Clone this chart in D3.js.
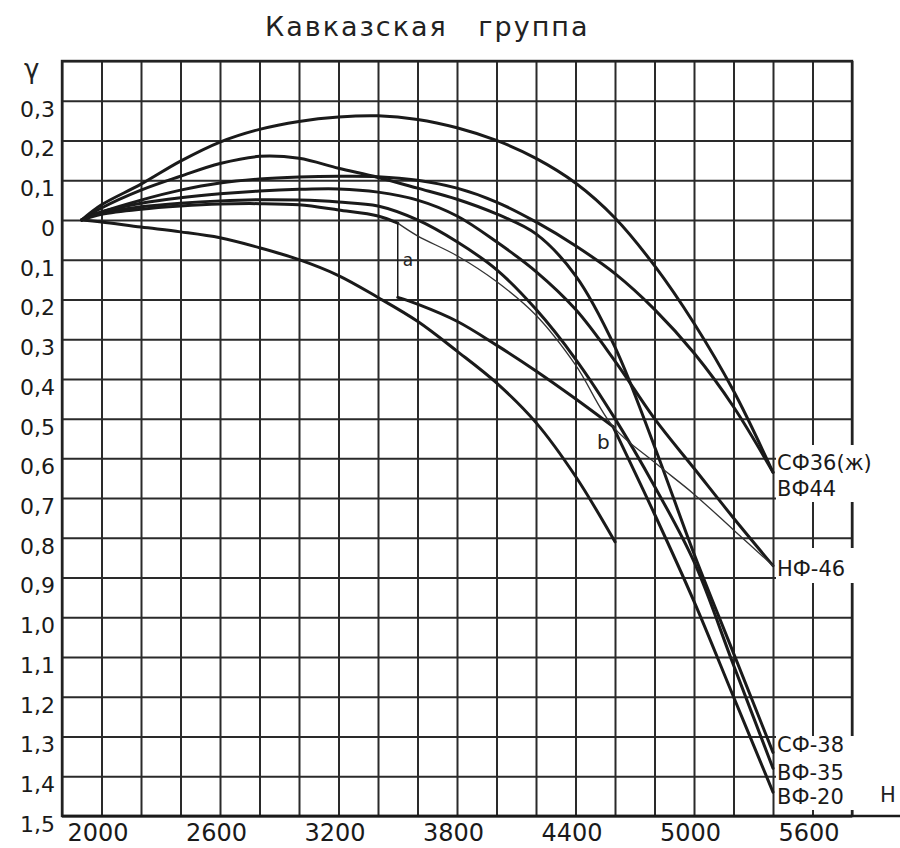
<!DOCTYPE html>
<html><head><meta charset="utf-8">
<script src="https://cdn.jsdelivr.net/npm/d3@7/dist/d3.min.js"></script>
<style>
body{margin:0;background:#fff}
svg{display:block;font-family:"DejaVu Sans",sans-serif}
</style></head><body>
<svg id="chart" width="900" height="848"></svg>
<script>
// Heights H (m) at which the curves are sampled
const hFull = [1900,2000,2200,2400,2600,2800,3000,3200,3400,3600,3800,4000,4200,4400,4600,4800,5000,5200,5400];
// γ along each full curve
const sf36 = [0,0.038,0.09,0.148,0.196,0.228,0.248,0.259,0.262,0.253,0.232,0.2,0.155,0.093,0.005,-0.115,-0.26,-0.43,-0.635];
const vf44 = [0,0.02,0.05,0.075,0.093,0.103,0.108,0.11,0.109,0.1,0.08,0.045,-0.005,-0.065,-0.135,-0.225,-0.335,-0.47,-0.635];
const sf38 = [0,0.03,0.075,0.11,0.142,0.16,0.155,0.13,0.107,0.08,0.052,0.015,-0.035,-0.14,-0.32,-0.57,-0.84,-1.09,-1.34];
const nf46 = [0,0.02,0.042,0.056,0.066,0.073,0.077,0.078,0.07,0.05,0.01,-0.055,-0.13,-0.225,-0.355,-0.5,-0.625,-0.75,-0.87];
const vf35 = [0,0.018,0.033,0.042,0.048,0.051,0.05,0.045,0.035,0.0,-0.055,-0.125,-0.225,-0.35,-0.5,-0.67,-0.86,-1.12,-1.38];
// ВФ-20: upper branch up to the shift "a", then the shifted branch a→b and b→end
const hVf20Upper = [1900,2000,2200,2400,2600,2800,3000,3200,3400,3500];
const vf20Upper = [0,0.014,0.027,0.035,0.04,0.041,0.038,0.025,0.01,-0.008];
const hVf20Ab = [3500,3600,3800,4000,4200,4400,4590];
const vf20Ab = [-0.195,-0.212,-0.255,-0.315,-0.38,-0.45,-0.52];
const hVf20End = [4590,4800,5000,5200,5400];
const vf20End = [-0.52,-0.74,-0.96,-1.2,-1.44];
// thin line: unshifted course from "a" to "b", then on to НФ-46
const hThin = [3500,3600,3800,4000,4200,4400,4590,4800,5000,5200,5400];
const thin = [-0.008,-0.04,-0.09,-0.155,-0.24,-0.365,-0.52,-0.61,-0.69,-0.78,-0.87];
// short lower curve
const hShort = [1900,2000,2200,2400,2600,2800,3000,3200,3400,3600,3800,4000,4200,4400,4600];
const shortCurve = [0,-0.005,-0.018,-0.03,-0.045,-0.07,-0.1,-0.14,-0.195,-0.255,-0.33,-0.41,-0.51,-0.645,-0.81];
// marker "a": vertical shift at H = 3500, marker "b"
const shiftA = {h:3500, top:-0.008, bottom:-0.195};
const pointB = {h:4590, g:-0.52};

const xTicks = [2000,2600,3200,3800,4400,5000,5600];
const yTicks = [0.3,0.2,0.1,0,-0.1,-0.2,-0.3,-0.4,-0.5,-0.6,-0.7,-0.8,-0.9,-1.0,-1.1,-1.2,-1.3,-1.4,-1.5];
const yTickLabels = ["0,3","0,2","0,1","0","0,1","0,2","0,3","0,4","0,5","0,6","0,7","0,8","0,9","1,0","1,1","1,2","1,3","1,4","1,5"];

const endLabels = [
  {text:"СФ36(ж)", g:-0.635, dy:-2},
  {text:"ВФ44", g:-0.635, dy:24},
  {text:"НФ-46", g:-0.87, dy:10},
  {text:"СФ-38", g:-1.34, dy:0},
  {text:"ВФ-35", g:-1.38, dy:12},
  {text:"ВФ-20", g:-1.44, dy:12}
];

const svg = d3.select("#chart");
const L = 62, R = 852, T = 61, B = 816;
const x = d3.scaleLinear().domain([1800,5800]).range([L,R]);
const y = d3.scaleLinear().domain([0.4,-1.5]).range([T,B]);

// title
svg.append("text").attr("x",265).attr("y",36)
  .attr("font-size",27).attr("letter-spacing",2).attr("word-spacing",20)
  .attr("fill","#222").text("Кавказская группа");

// grid
const grid = svg.append("g");
grid.append("g").attr("transform",`translate(0,${B})`)
  .call(d3.axisBottom(x).tickValues(d3.range(1800,5801,200)).tickSize(-(B-T)).tickFormat(""))
  .call(g=>g.select(".domain").remove())
  .selectAll("line").attr("stroke","#2a2a2a").attr("stroke-width",2);
grid.append("g").attr("transform",`translate(${L},0)`)
  .call(d3.axisLeft(y).tickValues(d3.range(4,-15.5,-1).map(d=>d/10)).tickSize(-(R-L)).tickFormat(""))
  .call(g=>g.select(".domain").remove())
  .selectAll("line").attr("stroke","#2a2a2a").attr("stroke-width",2);
svg.append("rect").attr("x",L).attr("y",T).attr("width",R-L).attr("height",B-T)
  .attr("fill","none").attr("stroke","#222").attr("stroke-width",2.4);

// curves
const line = (hs) => d3.line().x((d,i)=>x(hs[i])).y(d=>y(d)).curve(d3.curveCatmullRom.alpha(0.5));
const curves = svg.append("g").attr("fill","none").attr("stroke","#1a1a1a")
  .attr("stroke-linecap","round").attr("stroke-linejoin","round");
[sf36,vf44,sf38,nf46,vf35].forEach(c=>{
  curves.append("path").attr("d",line(hFull)(c)).attr("stroke-width",3);
});
curves.append("path").attr("d",line(hVf20Upper)(vf20Upper)).attr("stroke-width",3);
curves.append("path").attr("d",line(hVf20Ab)(vf20Ab)).attr("stroke-width",3);
curves.append("path").attr("d",line(hVf20End)(vf20End)).attr("stroke-width",3);
curves.append("path").attr("d",line(hShort)(shortCurve)).attr("stroke-width",3);
curves.append("path").attr("d",line(hThin)(thin)).attr("stroke-width",1.3).attr("stroke","#333");
// shift "a"
curves.append("line").attr("x1",x(shiftA.h)).attr("x2",x(shiftA.h))
  .attr("y1",y(shiftA.top)).attr("y2",y(shiftA.bottom)).attr("stroke-width",1.5);
svg.append("text").attr("x",x(shiftA.h)+5).attr("y",y((shiftA.top+shiftA.bottom)/2)+6)
  .attr("font-size",17).attr("fill","#222").text("a");
svg.append("text").attr("x",x(pointB.h)-16).attr("y",y(pointB.g)+22)
  .attr("font-size",20).attr("fill","#222").text("b");

// end labels with cleared background
const lab = svg.append("g").attr("font-size",21).attr("fill","#1a1a1a");
const labelX = x(5400)+4;
const boxes = [[445,502],[548,583],[736,810]];
boxes.forEach(([a,b])=>{
  lab.append("rect").attr("x",x(5400)+3).attr("y",a).attr("width",900-x(5400)-3).attr("height",b-a).attr("fill","#fff");
});
endLabels.forEach(d=>{
  lab.append("text").attr("x",labelX).attr("y",y(d.g)+d.dy).text(d.text);
});

// bottom axis line with label H
svg.append("line").attr("x1",L).attr("x2",900).attr("y1",B).attr("y2",B)
  .attr("stroke","#1a1a1a").attr("stroke-width",2.6);
svg.append("text").attr("x",880).attr("y",802).attr("font-size",21).attr("fill","#222").text("H");
svg.append("text").attr("x",24).attr("y",78).attr("font-size",26).attr("fill","#222").text("γ");

// tick labels
svg.append("g").attr("transform",`translate(${L},0)`)
  .call(d3.axisLeft(y).tickValues(yTicks).tickSize(0).tickPadding(7)
    .tickFormat((d,i)=>yTickLabels[i]))
  .call(g=>g.select(".domain").remove())
  .selectAll("text").attr("font-size",22).attr("font-family","DejaVu Sans").attr("fill","#1a1a1a").attr("dy","0.7em");
svg.append("g").attr("transform",`translate(-4,${B})`)
  .call(d3.axisBottom(x).tickValues(xTicks).tickSize(0).tickPadding(8))
  .call(g=>g.select(".domain").remove())
  .selectAll("text").attr("font-size",24).attr("font-family","DejaVu Sans").attr("fill","#1a1a1a")
  .text(d=>String(d));
</script>
</body></html>
